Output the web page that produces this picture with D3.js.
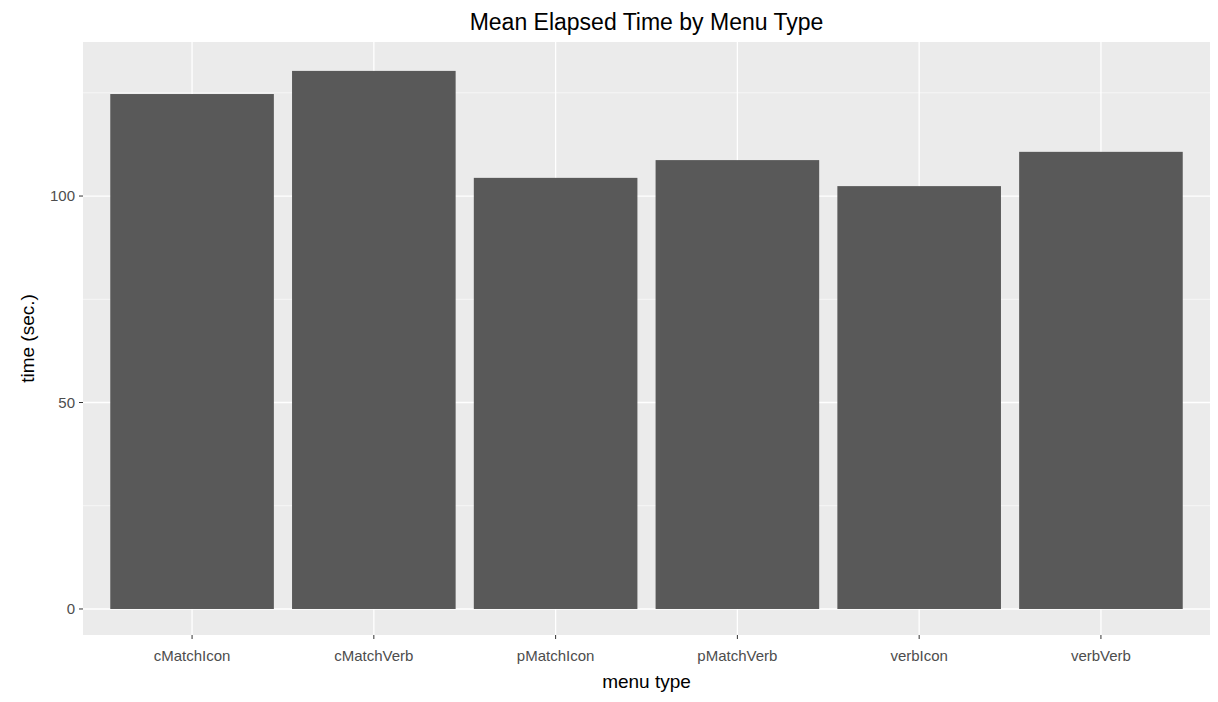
<!DOCTYPE html>
<html><head><meta charset="utf-8">
<script src="https://cdn.jsdelivr.net/npm/d3@7"></script>
<style>body{margin:0;background:#fff;font-family:"Liberation Sans",Arial,sans-serif}</style>
</head><body><svg id="chart" width="1218" height="702"></svg>
<script>
var categories = ["cMatchIcon","cMatchVerb","pMatchIcon","pMatchVerb","verbIcon","verbVerb"];
var values = [124.7, 130.3, 104.4, 108.7, 102.4, 110.7];
var yTicks = [0, 50, 100];
var yMinor = [25, 75, 125];

var svg = d3.select("#chart");
var pLeft = 83, pRight = 1210, pTop = 42, pBottom = 635;
var n = categories.length;
var unit = (pRight - pLeft) / (n - 1 + 1.2);

// discrete scale with ggplot-style 0.6 expansion
var x = d3.scalePoint().domain(categories)
	.range([pLeft + 0.6 * unit, pRight - 0.6 * unit]);
var y = d3.scaleLinear().domain([-6.3, 137.3]).range([pBottom, pTop]);

svg.append("rect").attr("x", pLeft).attr("y", pTop).attr("width", pRight - pLeft).attr("height", pBottom - pTop).attr("fill", "#ebebeb");

yMinor.forEach(function (v) {
	svg.append("line").attr("x1", pLeft).attr("x2", pRight).attr("y1", y(v)).attr("y2", y(v)).attr("stroke", "#fff").attr("stroke-width", 0.6);
});
yTicks.forEach(function (v) {
	svg.append("line").attr("x1", pLeft).attr("x2", pRight).attr("y1", y(v)).attr("y2", y(v)).attr("stroke", "#fff").attr("stroke-width", 1.3);
});
categories.forEach(function (c) {
	svg.append("line").attr("x1", x(c)).attr("x2", x(c)).attr("y1", pTop).attr("y2", pBottom).attr("stroke", "#fff").attr("stroke-width", 1.3);
});

svg.selectAll("rect.bar").data(values).enter().append("rect")
	.attr("class", "bar")
	.attr("x", function (d, i) { return x(categories[i]) - 0.45 * unit; })
	.attr("width", 0.9 * unit)
	.attr("y", function (d) { return y(d); })
	.attr("height", function (d) { return y(0) - y(d); })
	.attr("fill", "#595959");

// axes
yTicks.forEach(function (v) {
	svg.append("line").attr("x1", pLeft - 4).attr("x2", pLeft).attr("y1", y(v)).attr("y2", y(v)).attr("stroke", "#333").attr("stroke-width", 1);
	svg.append("text").attr("x", pLeft - 8).attr("y", y(v) + 5).attr("text-anchor", "end").attr("font-size", 15).attr("fill", "#4d4d4d").text(v);
});
categories.forEach(function (c) {
	svg.append("line").attr("x1", x(c)).attr("x2", x(c)).attr("y1", pBottom).attr("y2", pBottom + 4).attr("stroke", "#333").attr("stroke-width", 1);
	svg.append("text").attr("x", x(c)).attr("y", pBottom + 26).attr("text-anchor", "middle").attr("font-size", 15).attr("fill", "#4d4d4d").text(c);
});

svg.append("text").attr("x", (pLeft + pRight) / 2).attr("y", 688).attr("text-anchor", "middle").attr("font-size", 19).text("menu type");
svg.append("text").attr("transform", "translate(34," + ((pTop + pBottom) / 2) + ") rotate(-90)").attr("text-anchor", "middle").attr("font-size", 19).text("time (sec.)");
svg.append("text").attr("x", (pLeft + pRight) / 2).attr("y", 30).attr("text-anchor", "middle").attr("font-size", 23).text("Mean Elapsed Time by Menu Type");
</script></body></html>
